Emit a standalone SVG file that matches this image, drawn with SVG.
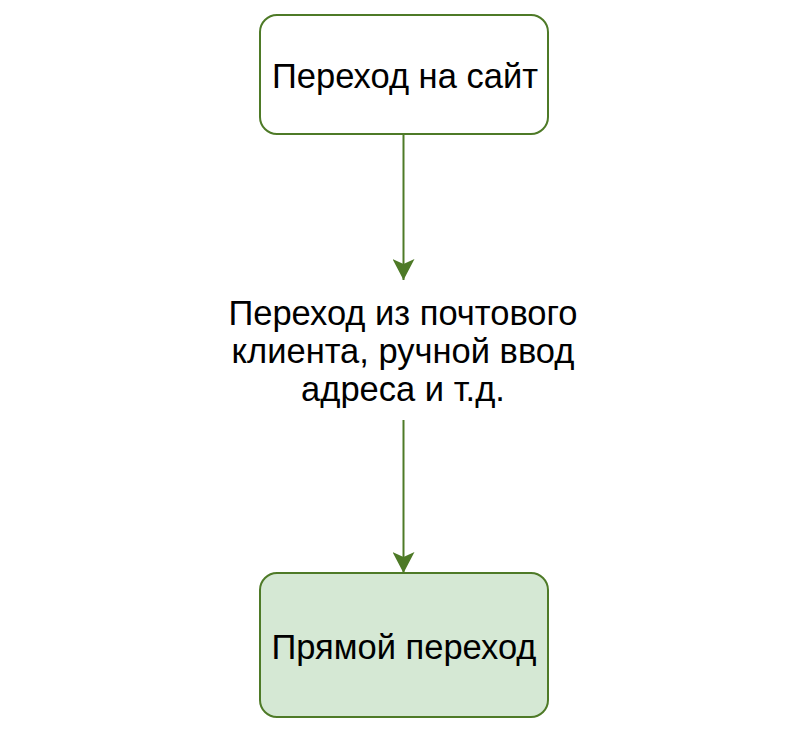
<svg xmlns="http://www.w3.org/2000/svg" width="808" height="746" viewBox="0 0 808 746">
<style>
.box{stroke:#4e7a27;stroke-width:2}
.t{font-family:"Liberation Sans",Arial,sans-serif;font-size:34.5px;fill:#000;text-anchor:middle}
.edge{stroke:#4e7a27;stroke-width:2;fill:none}
</style>
<defs>
<marker id="ah" markerUnits="userSpaceOnUse" markerWidth="22" markerHeight="22" viewBox="0 0 22 22" refX="21" refY="11" orient="auto">
<path d="M0,0 L21,11 L0,22 L5,11 Z" fill="#4e7a27"/>
</marker>
</defs>
<rect width="808" height="746" fill="#fff"/>
<g id="edges">
<path class="edge" d="M403.5,134 L403.5,280" marker-end="url(#ah)"/>
<path class="edge" d="M403.5,420 L403.5,573" marker-end="url(#ah)"/>
</g>
<g id="node-site">
<rect class="box" x="260" y="15" width="288" height="119" rx="17" fill="#fff"/>
<text class="t" x="405" y="88">Переход на сайт</text>
</g>
<g id="node-label">
<text class="t" x="403" y="325">Переход из почтового</text>
<text class="t" x="403" y="363">клиента, ручной ввод</text>
<text class="t" x="403" y="401">адреса и т.д.</text>
</g>
<g id="node-direct">
<rect class="box" x="260" y="573" width="288" height="144" rx="17" fill="#d5e8d4"/>
<text class="t" x="404" y="659">Прямой переход</text>
</g>
</svg>
